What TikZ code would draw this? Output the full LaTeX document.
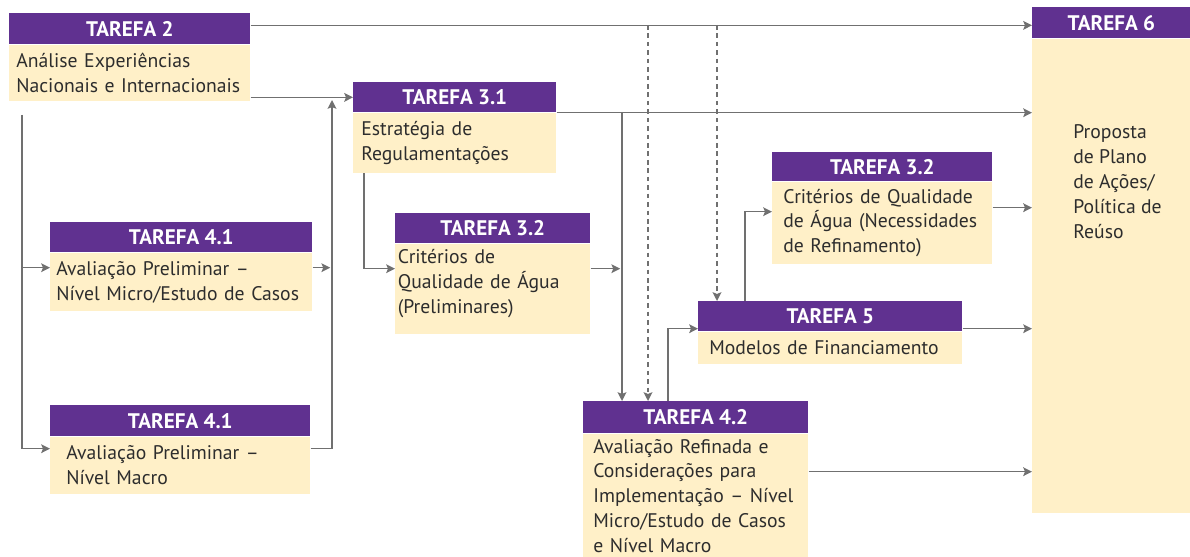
\documentclass[tikz,border=0pt]{standalone}
\usepackage{fontspec}
\setmainfont{PT Sans}
\usepackage{tikz}
\usetikzlibrary{arrows.meta, positioning}

\definecolor{hdrpurple}{RGB}{96,49,144}
\definecolor{bodycream}{RGB}{255,240,200}
\definecolor{linegray}{RGB}{112,112,112}
\definecolor{txtgray}{RGB}{45,45,45}

\tikzset{
  hdr/.style={fill=hdrpurple, text=white, font=\fontsize{12}{13}\selectfont\bfseries,
    minimum height=0.6cm, inner sep=0pt, anchor=north west},
  bdy/.style={fill=bodycream, text=txtgray, align=left, inner xsep=0.16cm,
    inner ysep=0pt, anchor=north west},
  arr/.style={-{Stealth[length=5pt,width=5pt,inset=1pt]}, draw=linegray, line width=0.8pt},
  dsh/.style={arr, dash pattern=on 2.6pt off 2.2pt},
}

\begin{document}
\begin{tikzpicture}[x=0.02cm, y=-0.02cm, font=\fontsize{11.2}{14.2}\selectfont]
  \clip (0,0) rectangle (1190,557);

  % tarefa 2
  \node[hdr, minimum width=4.82cm, minimum height=0.62cm] (t2h) at (9,13) {TAREFA 2};
  \node[bdy, inner xsep=0.14cm, text width=4.54cm, minimum height=1.12cm] (t2b) at (t2h.south west)
    {Análise Experiências\\Nacionais e Internacionais};

  % tarefa 3.1
  \node[hdr, minimum width=4.06cm] (t31h) at (353,82) {TAREFA 3.1};
  \node[bdy, text width=3.74cm, minimum height=1.2cm] (t31b) at (t31h.south west)
    {Estratégia de\\Regulamentações};

  % tarefa 3.2 (preliminares)
  \node[hdr, minimum width=3.9cm] (t32ah) at (395,213) {TAREFA 3.2};
  \node[bdy, inner xsep=0.05cm, text width=3.8cm, minimum height=1.8cm] (t32ab) at (t32ah.south west)
    {Critérios de\\Qualidade de Água\\(Preliminares)\\[-6pt]\mbox{}};

  % tarefa 4.1 (micro)
  \node[hdr, minimum width=5.24cm] (t41ah) at (50,222) {TAREFA 4.1};
  \node[bdy, inner xsep=0.12cm, text width=5cm, minimum height=1.16cm] (t41ab) at (t41ah.south west)
    {Avaliação Preliminar –\\Nível Micro/Estudo de Casos};

  % tarefa 4.1 (macro)
  \node[hdr, minimum width=5.2cm, minimum height=0.62cm] (t41bh) at (50,405) {TAREFA 4.1};
  \node[bdy, inner xsep=0.32cm, text width=4.56cm, minimum height=1.14cm] (t41bb) at (t41bh.south west)
    {Avaliação Preliminar –\\Nível Macro};

  % tarefa 4.2
  \node[hdr, minimum width=4.5cm, minimum height=0.64cm] (t42h) at (583,401) {TAREFA 4.2};
  \node[bdy, inner xsep=0.2cm, text width=4.1cm, minimum height=2.48cm] (t42b) at (t42h.south west)
    {Avaliação Refinada e\\Considerações para\\Implementação – Nível\\Micro/Estudo de Casos\\e Nível Macro};

  % tarefa 5
  \node[hdr, minimum width=5.28cm] (t5h) at (698,301) {TAREFA 5};
  \node[bdy, inner xsep=0.22cm, text width=4.84cm, minimum height=0.64cm] (t5b) at (t5h.south west)
    {Modelos de Financiamento};

  % tarefa 3.2 (refinamento)
  \node[hdr, minimum width=4.4cm, minimum height=0.58cm] (t32bh) at (772,152) {TAREFA 3.2};
  \node[bdy, inner xsep=0.22cm, text width=3.96cm, minimum height=1.64cm] (t32bb) at (t32bh.south west)
    {Critérios de Qualidade\\de Água (Necessidades\\de Refinamento)};

  % tarefa 6
  \node[hdr, minimum width=3.16cm, minimum height=0.62cm] (t6h) at (1032,7) {TAREFA 6};
  \node[bdy, minimum width=3.16cm, minimum height=9.48cm] (t6b) at (t6h.south west) {};
  \node[anchor=north west, align=left, inner sep=0pt, text=txtgray] (t6txt) at (1073,124)
    {Proposta\\de Plano\\de Ações/\\Política de\\Reúso};

  % junctions
  \coordinate (j0) at (22,115);
  \coordinate (j1) at (332,100);
  \coordinate (j2) at (622,112);
  \coordinate (d1) at (648,25);
  \coordinate (d2) at (717,25);

  % connectors
  \draw[arr] ([yshift=0.07cm]t2h.east) -- ([yshift=0.07cm]t2h.east -| t6h.west);
  \draw[arr] (t2b.east |- t31h.west) -- (t31h.west);
  \draw[arr] (j0) |- ([yshift=-0.3cm]t41ab.north west);
  \draw[arr] (j0) |- ([yshift=-0.24cm]t41bb.north west);
  \draw[arr] ([yshift=-0.3cm]t41ab.north east) -- ([yshift=-0.3cm,xshift=-1pt]t41ab.north east -| j1);
  \draw[arr] ([yshift=-0.24cm]t41bb.north east) -| (j1);
  \draw[arr] (t31h.south east) -- (t31h.south east -| t6b.west);
  \draw[arr] (j2) -- (j2 |- t42h.north);
  \draw[arr] ([xshift=0.22cm]t31b.south west) |- ([yshift=-0.5cm]t32ab.north west);
  \draw[arr] ([yshift=-0.5cm]t32ab.north east) -- ([yshift=-0.5cm,xshift=-1pt]t32ab.north east -| j2);
  \draw[dsh] (d1) -- (d1 |- t42h.north);
  \draw[dsh] (d2) -- (d2 |- t5h.north);
  \draw[arr] ([xshift=1.7cm]t42h.north west) |- ([yshift=0.06cm]t5h.south west);
  \draw[arr] ([yshift=0.06cm]t5h.south east) -- ([yshift=0.06cm]t5h.south east -| t6b.west);
  \draw[arr] ([yshift=-0.76cm]t42b.north east) -- ([yshift=-0.76cm]t42b.north east -| t6b.west);
  \draw[arr] ([xshift=0.94cm]t5h.north west) |- ([yshift=-0.6cm]t32bb.north west);
  \draw[arr] ([yshift=-0.52cm]t32bb.north east) -- ([yshift=-0.52cm]t32bb.north east -| t6b.west);
\end{tikzpicture}
\end{document}
